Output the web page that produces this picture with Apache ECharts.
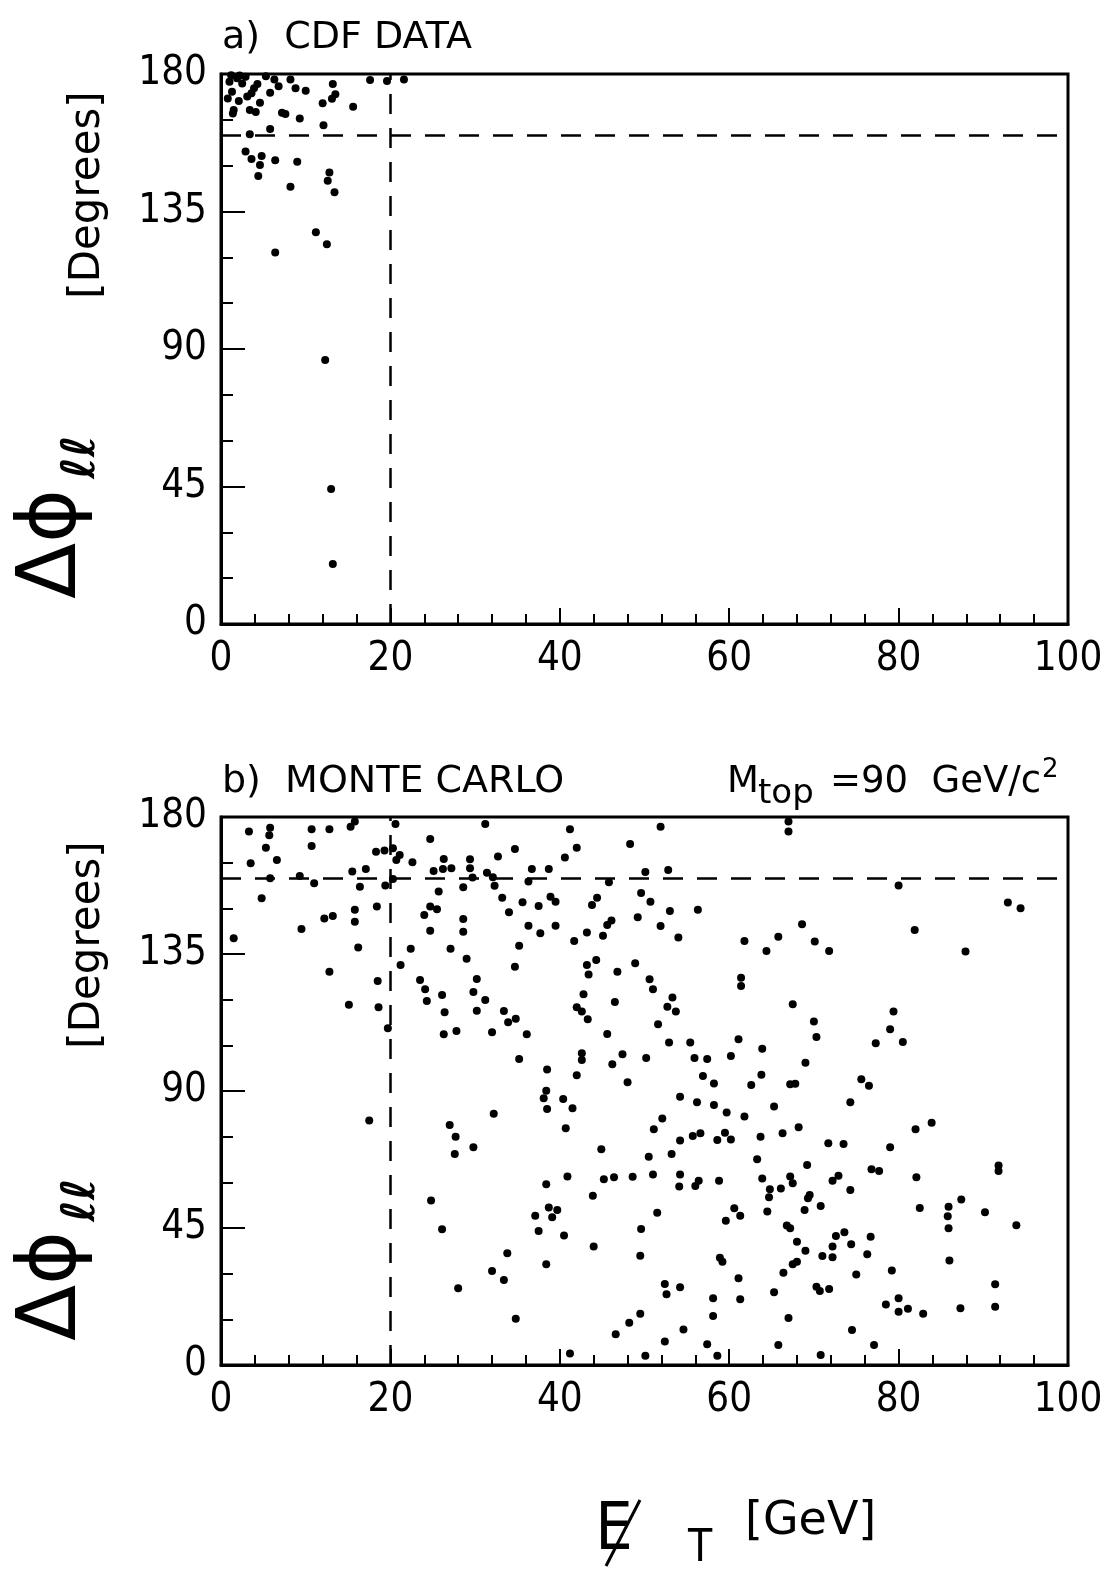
<!DOCTYPE html>
<html>
<head>
<meta charset="utf-8">
<script src="https://cdn.jsdelivr.net/npm/echarts@6/dist/echarts.min.js"></script>
<style>html,body{margin:0;padding:0;background:#fff}#chart{width:1108px;height:1571px}</style>
</head>
<body>
<div id="chart"></div>
<script>
// axis ranges and cut lines
var xTicks = [0, 20, 40, 60, 80, 100];
var yTicks = [0, 45, 90, 135, 180];
var cutEt = 20;
var cutDphi = 160;

// a) CDF data: missing Et [GeV] and delta phi [deg]
var cdfEt = [1.0,1.3,1.9,2.5,2.9,3.1,3.6,3.9,4.3,4.6,2.1,1.5,1.4,3.4,4.1,5.8,6.3,6.8,7.2,7.6,8.2,8.8,10.0,9.3,12.0,13.2,13.5,13.1,12.1,15.6,17.6,19.6,21.6,5.8,3.4,2.9,3.6,4.8,4.6,6.4,9.0,4.4,8.2,12.8,12.6,13.4,11.2,12.5,6.4,12.3,13.0,13.2,0.8,2.2,5.3,1.2];
var cdfDphi = [177.5,174.2,178.6,176.9,179.1,172.6,173.7,175.3,176.7,170.6,171.2,168.2,167.1,168.2,167.6,173.9,178.2,176.0,167.3,166.9,178.2,175.3,174.5,165.4,170.4,176.7,173.4,171.9,163.2,169.3,178.0,177.7,178.2,162.0,160.3,154.6,152.2,153.2,150.2,151.8,151.3,146.6,143.1,147.8,145.1,141.3,128.2,124.3,121.6,86.4,44.2,19.6,172.0,179.5,179.3,179.6];

// b) Monte Carlo, Mtop = 90 GeV/c2
var mcEt = [1.5,3.3,3.5,4.8,5.3,5.8,5.7,6.6,5.8,9.3,9.5,10.7,10.7,11.0,12.8,12.2,13.2,12.8,15.1,15.3,15.8,15.5,16.4,15.8,15.8,16.2,17.1,18.3,18.4,18.5,18.6,19.3,19.4,19.7,20.3,20.6,20.7,21.1,20.3,21.2,22.4,22.6,23.5,24.0,24.7,25.5,24.7,24.7,24.1,24.3,25.1,25.7,26.1,26.2,26.3,26.4,26.3,27.1,27.2,27.8,28.6,28.6,28.6,29.0,29.4,29.4,29.7,29.8,30.2,30.2,31.2,31.2,31.4,32.1,32.3,32.0,32.7,33.2,34.0,34.7,35.6,35.2,34.7,36.3,36.3,36.7,37.5,37.7,38.7,38.9,39.5,39.5,40.6,41.2,42.0,41.7,43.2,43.8,44.4,45.1,45.6,46.1,45.8,43.2,43.4,44.3,46.8,42.8,42.0,42.6,43.3,46.5,45.6,42.6,42.6,42.0,38.5,38.4,40.4,46.2,47.4,48.0,33.4,33.9,34.8,36.1,35.2,48.3,50.1,49.6,50.7,49.2,48.9,50.6,51.0,51.9,52.8,53.0,51.9,54.0,53.3,52.7,53.7,51.6,52.9,55.4,50.2,55.9,57.4,56.9,58.2,56.3,60.2,61.1,63.9,63.8,62.6,61.8,64.4,65.8,61.4,61.4,54.2,
  67.0,67.0,80.0,92.9,94.4,68.6,70.1,71.8,81.9,87.9,67.5,70.0,70.3,69.0,67.2,67.8,79.4,79.0,77.3,80.5,75.6,76.5,
  38.1,38.5,41.5,40.7,32.2,44.9,38.4,40.9,43.9,45.2,46.4,48.6,51.0,50.5,51.1,52.1,53.2,54.2,54.2,54.1,55.7,56.6,56.2,58.2,59.7,58.6,59.5,60.2,61.8,65.3,63.7,63.3,63.9,64.8,64.7,64.5,56.0,56.4,58.8,60.6,61.3,59.6,51.5,49.6,49.5,44.0,37.1,37.5,38.7,39.1,39.7,40.5,38.4,33.8,32.0,33.4,34.8,41.2,46.6,48.2,49.5,50.1,52.4,52.6,54.2,52.4,54.6,57.4,58.1,58.1,58.6,58.9,59.2,61.1,61.3,65.3,65.8,
  17.5,27.0,27.7,27.6,29.8,24.8,26.1,28.0,
  74.3,68.2,66.3,71.7,73.5,79.0,82.0,83.9,69.2,67.2,67.5,66.1,72.2,72.9,74.3,69.3,69.5,70.8,68.9,76.8,77.7,82.1,82.5,85.9,85.8,85.9,87.4,90.2,91.8,91.8,93.9,86.0,66.8,67.2,68.0,69.0,67.5,68.0,66.4,72.6,73.6,72.2,72.2,71.0,74.4,76.7,76.3,75.0,79.2,70.3,70.7,71.8,67.0,70.8,74.5,77.1,78.5,80.0,80.0,81.1,82.9,87.3,91.4,91.4];
var mcDphi = [140.2,175.2,164.8,153.3,169.9,176.5,174.0,165.9,159.9,160.6,143.2,176.0,170.5,158.2,176.0,146.7,147.5,129.2,118.3,176.8,178.5,162.1,157.1,145.6,149.5,137.1,162.9,168.6,150.6,126.1,117.5,169.0,157.5,110.6,169.7,177.7,165.9,167.5,159.6,131.4,136.7,165.1,126.5,147.8,150.6,149.7,172.8,142.6,123.4,119.6,162.3,155.5,121.5,162.9,166.2,115.9,108.6,136.7,163.2,109.7,146.5,142.3,156.9,133.4,166.1,163.2,160.1,122.5,126.8,116.4,119.9,177.7,161.7,160.2,157.4,109.3,167.0,153.5,148.7,169.5,152.0,137.7,130.8,144.3,158.8,162.9,150.8,141.8,162.9,153.8,152.2,144.3,166.7,176.0,169.9,139.3,142.1,151.1,153.5,141.0,144.5,146.0,158.6,131.4,128.3,133.0,129.2,121.8,117.5,116.1,113.6,119.2,108.7,102.4,100.2,95.2,97.1,90.1,87.4,98.8,102.1,92.9,116.3,112.6,113.7,108.6,100.5,171.1,161.9,155.0,152.2,147.1,132.0,126.7,123.4,176.8,162.6,149.1,144.2,140.4,120.7,117.7,116.1,111.9,105.9,105.9,100.8,100.8,100.5,94.9,92.5,149.5,101.5,107.0,103.9,95.3,92.0,139.3,136.0,140.7,127.2,124.5,88.1,
  175.2,178.5,157.5,151.9,150.0,144.8,139.1,136.0,142.9,135.8,118.5,112.8,107.7,99.3,92.2,92.4,116.1,110.3,105.7,106.1,93.9,91.7,
  87.6,84.1,84.3,77.8,82.5,70.9,59.4,61.9,55.6,61.0,61.7,61.8,62.6,68.4,77.4,81.0,69.3,73.7,62.6,58.6,75.2,76.1,86.3,85.4,82.9,73.9,76.3,74.1,81.6,84.9,75.0,67.6,61.3,57.7,55.1,50.4,58.8,60.5,60.5,51.5,49.0,47.4,50.0,44.7,35.9,38.9,49.0,44.0,51.7,48.5,50.9,42.5,33.1,36.7,30.9,27.9,15.2,3.8,10.1,13.9,16.8,3.0,26.6,23.2,25.5,7.7,11.7,6.8,21.9,16.1,3.0,35.2,33.9,28.5,21.6,23.9,6.6,
  80.3,78.8,75.0,69.3,71.5,54.0,44.6,25.2,
  86.3,78.1,76.1,72.8,72.6,71.5,77.4,79.6,65.7,61.9,59.7,58.0,60.5,62.2,57.5,54.8,55.8,52.2,50.9,64.3,63.7,61.7,51.6,52.0,48.9,44.9,54.4,50.2,65.5,63.7,45.9,34.3,45.8,44.9,40.5,37.5,33.1,33.9,30.3,42.4,43.6,38.9,35.4,35.8,39.7,42.1,36.4,29.7,31.0,25.7,24.3,25.0,15.4,3.3,11.5,6.6,19.9,21.9,17.5,18.5,16.8,18.6,26.5,19.1];

function pairs(xs, ys) {
    var out = [];
    for (var i = 0; i < xs.length; i++) out.push([xs[i], ys[i]]);
    return out;
}

var FONT = "'DejaVu Sans Condensed', 'DejaVu Sans', sans-serif";
var WIDE = "'DejaVu Sans', sans-serif";

function xAxisFor(idx) {
    return {
        type: 'value', gridIndex: idx,
        min: xTicks[0], max: xTicks[xTicks.length - 1], interval: xTicks[1] - xTicks[0],
        axisLine: {show: true, onZero: false, lineStyle: {color: '#000', width: 3}},
        axisTick: {show: true, inside: true, length: 16, lineStyle: {color: '#000', width: 2}},
        minorTick: {show: true, splitNumber: 5, length: 10, lineStyle: {color: '#000', width: 2}},
        splitLine: {show: false},
        axisLabel: {color: '#000', fontSize: 40, fontFamily: FONT, margin: 16}
    };
}
function yAxisFor(idx) {
    return {
        type: 'value', gridIndex: idx,
        min: yTicks[0], max: yTicks[yTicks.length - 1], interval: yTicks[1] - yTicks[0],
        axisLine: {show: true, onZero: false, lineStyle: {color: '#000', width: 3}},
        axisTick: {show: true, inside: true, length: 24, lineStyle: {color: '#000', width: 2}},
        minorTick: {show: true, splitNumber: 3, length: 12, lineStyle: {color: '#000', width: 2}},
        splitLine: {show: false},
        axisLabel: {color: '#000', fontSize: 40, fontFamily: FONT, margin: 14}
    };
}
function cutLines() {
    return {
        silent: true, symbol: 'none', animation: false,
        label: {show: false},
        lineStyle: {color: '#000', width: 2.5, type: [20, 14], opacity: 1},
        data: [{xAxis: cutEt}, {yAxis: cutDphi}]
    };
}
function txt(x, y, s, size, opts) {
    opts = opts || {};
    return {
        type: 'text', x: x, y: y, rotation: opts.rot || 0, silent: true,
        style: {
            text: s, fill: '#000', fontSize: size,
            fontFamily: opts.font || FONT,
            fontStyle: opts.italic ? 'italic' : 'normal',
            fontWeight: opts.bold ? 'bold' : 'normal',
            align: opts.align || 'left', verticalAlign: opts.va || 'middle'
        }
    };
}

var R = Math.PI / 2;
var myChart = echarts.init(document.getElementById('chart'), null, {renderer: 'canvas'});
var option = {
    animation: false,
    backgroundColor: '#fff',
    grid: [
        {left: 221, top: 74, width: 847, height: 550, show: true, borderColor: '#000', borderWidth: 3, backgroundColor: 'transparent'},
        {left: 221, top: 817, width: 847, height: 548, show: true, borderColor: '#000', borderWidth: 3, backgroundColor: 'transparent'}
    ],
    xAxis: [xAxisFor(0), xAxisFor(1)],
    yAxis: [yAxisFor(0), yAxisFor(1)],
    series: [
        {type: 'scatter', xAxisIndex: 0, yAxisIndex: 0, symbolSize: 8, itemStyle: {color: '#000', opacity: 1},
         data: pairs(cdfEt, cdfDphi), markLine: cutLines()},
        {type: 'scatter', xAxisIndex: 1, yAxisIndex: 1, symbolSize: 8, itemStyle: {color: '#000', opacity: 1},
         data: pairs(mcEt, mcDphi), markLine: cutLines()}
    ],
    graphic: [
        txt(222, 38, 'a)  CDF DATA', 38, {font: WIDE}),
        txt(222, 782, 'b)  MONTE CARLO', 38, {font: WIDE}),
        txt(727, 782, 'M', 37, {font: WIDE}),
        txt(758, 794, 'top', 34, {font: WIDE}),
        txt(830, 782, '=90  GeV/c', 37, {font: WIDE}),
        txt(1042, 770, '2', 26, {font: WIDE}),
        // y titles (rotated)
        txt(54, 544, 'Δϕ', 82, {rot: R, align: 'center', font: WIDE}),
        txt(82, 457, 'ℓℓ', 46, {rot: R, align: 'center', font: WIDE, italic: true, bold: true}),
        txt(88, 195, '[Degrees]', 42, {rot: R, align: 'center', font: WIDE}),
        txt(54, 1286, 'Δϕ', 82, {rot: R, align: 'center', font: WIDE}),
        txt(82, 1200, 'ℓℓ', 46, {rot: R, align: 'center', font: WIDE, italic: true, bold: true}),
        txt(88, 945, '[Degrees]', 42, {rot: R, align: 'center', font: WIDE}),
        // x title
        txt(614, 1532, 'E', 66, {align: 'center'}),
        {type: 'line', silent: true, shape: {x1: 606, y1: 1566, x2: 640, y2: 1500}, style: {stroke: '#000', lineWidth: 3}},
        txt(700, 1550, 'T', 44, {align: 'center'}),
        txt(745, 1522, '[GeV]', 46, {font: WIDE})
    ]
};
myChart.setOption(option);
</script>
</body>
</html>
